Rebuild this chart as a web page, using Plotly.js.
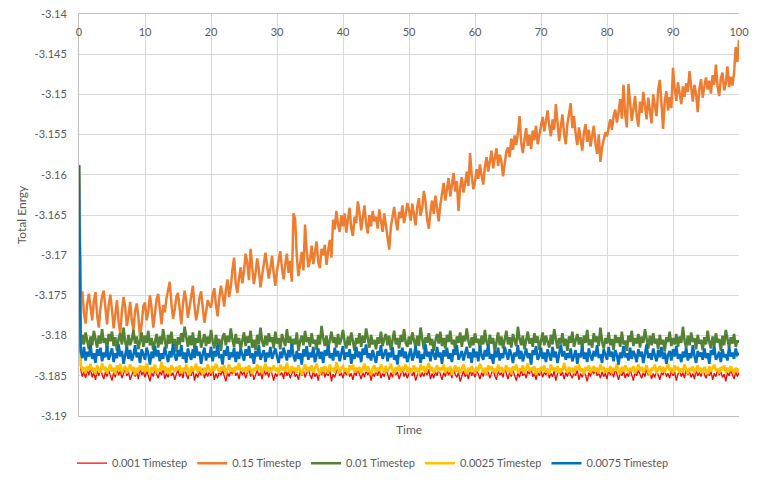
<!DOCTYPE html>
<html>
<head>
<meta charset="utf-8">
<script src="https://cdn.plot.ly/plotly-3.0.1.min.js"></script>
<style>
  html, body { margin: 0; padding: 0; background: #fff; }
  #chart { width: 762px; height: 481px; }
</style>
</head>
<body>
<div id="chart"></div>
<script>
// every run was logged at the same interval
const sampleStep = 0.25

const seriesNames = ["0.001 Timestep", "0.15 Timestep", "0.01 Timestep", "0.0025 Timestep", "0.0075 Timestep"]
const seriesColors = ["#FF0000", "#ED7D31", "#548235", "#FFC000", "#0070C0"]

const yTicks = [-3.19, -3.185, -3.18, -3.175, -3.17, -3.165, -3.16, -3.155, -3.15, -3.145, -3.14]
const xTicks = [0, 10, 20, 30, 40, 50, 60, 70, 80, 90, 100]

// one row = 5 time units
const energy015 = [
    -3.1588, -3.1750, -3.1745, -3.1772, -3.1785, -3.1760, -3.1748, -3.1769, -3.1781, -3.1757, -3.1746, -3.1775, -3.1790, -3.1766, -3.1751, -3.1744, -3.1770, -3.1786, -3.1762, -3.1749,
    -3.1768, -3.1791, -3.1774, -3.1756, -3.1783, -3.1797, -3.1770, -3.1752, -3.1765, -3.1788, -3.1776, -3.1758, -3.1781, -3.1794, -3.1769, -3.1760, -3.1777, -3.1802, -3.1785, -3.1763,
    -3.1759, -3.1781, -3.1770, -3.1750, -3.1766, -3.1790, -3.1773, -3.1755, -3.1748, -3.1769, -3.1786, -3.1762, -3.1771, -3.1754, -3.1741, -3.1733, -3.1760, -3.1779, -3.1768, -3.1752,
    -3.1747, -3.1772, -3.1786, -3.1761, -3.1744, -3.1757, -3.1778, -3.1765, -3.1750, -3.1738, -3.1763, -3.1781, -3.1769, -3.1753, -3.1745, -3.1766, -3.1784, -3.1771, -3.1756, -3.1762,
    -3.1765, -3.1750, -3.1741, -3.1762, -3.1776, -3.1754, -3.1738, -3.1749, -3.1764, -3.1743, -3.1730, -3.1752, -3.1739, -3.1718, -3.1703, -3.1736, -3.1747, -3.1728, -3.1715, -3.1735,
    -3.1720, -3.1698, -3.1710, -3.1731, -3.1692, -3.1715, -3.1736, -3.1722, -3.1704, -3.1718, -3.1740, -3.1725, -3.1709, -3.1697, -3.1713, -3.1729, -3.1716, -3.1701, -3.1723, -3.1738,
    -3.1719, -3.1704, -3.1695, -3.1716, -3.1730, -3.1711, -3.1698, -3.1722, -3.1707, -3.1733, -3.1648, -3.1655, -3.1701, -3.1726, -3.1712, -3.1696, -3.1719, -3.1662, -3.1694, -3.1715,
    -3.1706, -3.1688, -3.1711, -3.1697, -3.1683, -3.1709, -3.1716, -3.1692, -3.1700, -3.1687, -3.1712, -3.1695, -3.1681, -3.1703, -3.1656, -3.1668, -3.1645, -3.1662, -3.1671, -3.1650,
    -3.1664, -3.1648, -3.1672, -3.1655, -3.1641, -3.1667, -3.1676, -3.1652, -3.1660, -3.1633, -3.1647, -3.1669, -3.1654, -3.1638, -3.1661, -3.1673, -3.1650, -3.1664, -3.1645, -3.1658,
    -3.1652, -3.1667, -3.1643, -3.1659, -3.1671, -3.1648, -3.1662, -3.1676, -3.1693, -3.1665, -3.1651, -3.1640, -3.1657, -3.1669, -3.1646, -3.1654, -3.1638, -3.1660, -3.1649, -3.1635,
    -3.1644, -3.1657, -3.1636, -3.1648, -3.1663, -3.1640, -3.1629, -3.1651, -3.1642, -3.1620, -3.1633, -3.1655, -3.1667, -3.1646, -3.1632, -3.1649, -3.1626, -3.1641, -3.1658, -3.1637,
    -3.1625, -3.1610, -3.1632, -3.1619, -3.1604, -3.1627, -3.1614, -3.1598, -3.1621, -3.1608, -3.1645, -3.1616, -3.1603, -3.1622, -3.1611, -3.1596, -3.1614, -3.1573, -3.1600, -3.1618,
    -3.1609, -3.1593, -3.1605, -3.1587, -3.1601, -3.1612, -3.1590, -3.1578, -3.1596, -3.1584, -3.1570, -3.1592, -3.1580, -3.1567, -3.1589, -3.1575, -3.1583, -3.1602, -3.1586, -3.1571,
    -3.1566, -3.1578, -3.1555, -3.1569, -3.1551, -3.1563, -3.1548, -3.1527, -3.1560, -3.1573, -3.1556, -3.1542, -3.1564, -3.1550, -3.1568, -3.1545, -3.1557, -3.1539, -3.1562, -3.1549,
    -3.1541, -3.1528, -3.1546, -3.1533, -3.1520, -3.1539, -3.1552, -3.1531, -3.1544, -3.1512, -3.1536, -3.1558, -3.1540, -3.1525, -3.1549, -3.1562, -3.1537, -3.1523, -3.1511, -3.1542,
    -3.1527, -3.1549, -3.1563, -3.1541, -3.1556, -3.1570, -3.1548, -3.1537, -3.1559, -3.1544, -3.1565, -3.1552, -3.1539, -3.1561, -3.1574, -3.1550, -3.1584, -3.1566, -3.1558, -3.1547,
    -3.1552, -3.1540, -3.1531, -3.1544, -3.1527, -3.1519, -3.1535, -3.1522, -3.1506, -3.1530, -3.1488, -3.1525, -3.1541, -3.1487, -3.1512, -3.1533, -3.1518, -3.1502, -3.1526, -3.1540,
    -3.1509, -3.1523, -3.1497, -3.1515, -3.1531, -3.1504, -3.1519, -3.1536, -3.1500, -3.1514, -3.1527, -3.1495, -3.1482, -3.1511, -3.1543, -3.1508, -3.1496, -3.1520, -3.1503, -3.1517,
    -3.1467, -3.1492, -3.1508, -3.1485, -3.1499, -3.1512, -3.1490, -3.1503, -3.1486, -3.1497, -3.1471, -3.1494, -3.1509, -3.1488, -3.1500, -3.1522, -3.1493, -3.1481, -3.1504, -3.1490,
    -3.1479, -3.1494, -3.1483, -3.1499, -3.1476, -3.1488, -3.1463, -3.1490, -3.1502, -3.1480, -3.1473, -3.1495, -3.1486, -3.1465, -3.1491, -3.1478, -3.1489, -3.1474, -3.1441, -3.1460,
    -3.1432
]

const energy001 = [
    -3.1588, -3.1842, -3.1851, -3.1845, -3.1853, -3.1843, -3.1849, -3.1840, -3.1852, -3.1846, -3.1855, -3.1844, -3.1850, -3.1841, -3.1848, -3.1854, -3.1845, -3.1851, -3.1843, -3.1849,
    -3.1856, -3.1846, -3.1852, -3.1842, -3.1849, -3.1844, -3.1853, -3.1847, -3.1841, -3.1850, -3.1845, -3.1855, -3.1848, -3.1843, -3.1851, -3.1846, -3.1854, -3.1840, -3.1849, -3.1845,
    -3.1852, -3.1844, -3.1850, -3.1857, -3.1846, -3.1851, -3.1842, -3.1848, -3.1853, -3.1845, -3.1849, -3.1841, -3.1854, -3.1847, -3.1852, -3.1843, -3.1850, -3.1846, -3.1855, -3.1848,
    -3.1843, -3.1851, -3.1845, -3.1853, -3.1840, -3.1848, -3.1854, -3.1846, -3.1850, -3.1842, -3.1856, -3.1847, -3.1852, -3.1844, -3.1849, -3.1841, -3.1853, -3.1846, -3.1851, -3.1845,
    -3.1850, -3.1842, -3.1855, -3.1847, -3.1853, -3.1845, -3.1849, -3.1843, -3.1852, -3.1857, -3.1846, -3.1851, -3.1844, -3.1848, -3.1840, -3.1850, -3.1846, -3.1854, -3.1843, -3.1849,
    -3.1845, -3.1853, -3.1847, -3.1841, -3.1851, -3.1844, -3.1855, -3.1848, -3.1843, -3.1850, -3.1846, -3.1854, -3.1842, -3.1849, -3.1845, -3.1852, -3.1840, -3.1848, -3.1856, -3.1847,
    -3.1851, -3.1843, -3.1849, -3.1846, -3.1854, -3.1841, -3.1850, -3.1845, -3.1853, -3.1847, -3.1842, -3.1851, -3.1848, -3.1855, -3.1844, -3.1850, -3.1843, -3.1852, -3.1846, -3.1841,
    -3.1849, -3.1854, -3.1844, -3.1851, -3.1847, -3.1856, -3.1843, -3.1849, -3.1841, -3.1852, -3.1846, -3.1850, -3.1843, -3.1857, -3.1848, -3.1852, -3.1845, -3.1840, -3.1850, -3.1846,
    -3.1853, -3.1844, -3.1849, -3.1842, -3.1851, -3.1847, -3.1855, -3.1845, -3.1850, -3.1841, -3.1848, -3.1854, -3.1846, -3.1852, -3.1843, -3.1849, -3.1845, -3.1856, -3.1847, -3.1851,
    -3.1844, -3.1850, -3.1842, -3.1853, -3.1847, -3.1851, -3.1840, -3.1848, -3.1855, -3.1846, -3.1852, -3.1843, -3.1849, -3.1845, -3.1854, -3.1848, -3.1842, -3.1851, -3.1846, -3.1853,
    -3.1847, -3.1841, -3.1850, -3.1845, -3.1856, -3.1848, -3.1843, -3.1852, -3.1846, -3.1851, -3.1844, -3.1849, -3.1842, -3.1854, -3.1847, -3.1853, -3.1845, -3.1850, -3.1841, -3.1848,
    -3.1855, -3.1846, -3.1851, -3.1843, -3.1849, -3.1845, -3.1853, -3.1840, -3.1848, -3.1852, -3.1846, -3.1857, -3.1849, -3.1844, -3.1851, -3.1847, -3.1854, -3.1842, -3.1850, -3.1845,
    -3.1852, -3.1843, -3.1848, -3.1854, -3.1846, -3.1851, -3.1841, -3.1849, -3.1845, -3.1853, -3.1847, -3.1842, -3.1850, -3.1855, -3.1844, -3.1849, -3.1846, -3.1852, -3.1840, -3.1848,
    -3.1854, -3.1845, -3.1851, -3.1843, -3.1849, -3.1856, -3.1847, -3.1852, -3.1842, -3.1850, -3.1846, -3.1853, -3.1844, -3.1848, -3.1841, -3.1851, -3.1847, -3.1855, -3.1845, -3.1850,
    -3.1843, -3.1852, -3.1846, -3.1849, -3.1841, -3.1853, -3.1847, -3.1851, -3.1844, -3.1856, -3.1848, -3.1842, -3.1850, -3.1845, -3.1854, -3.1846, -3.1851, -3.1843, -3.1849, -3.1853,
    -3.1845, -3.1850, -3.1842, -3.1855, -3.1847, -3.1852, -3.1844, -3.1849, -3.1857, -3.1846, -3.1851, -3.1843, -3.1848, -3.1840, -3.1850, -3.1846, -3.1853, -3.1845, -3.1851, -3.1847,
    -3.1854, -3.1843, -3.1849, -3.1845, -3.1852, -3.1841, -3.1848, -3.1855, -3.1846, -3.1850, -3.1844, -3.1853, -3.1847, -3.1851, -3.1842, -3.1849, -3.1856, -3.1845, -3.1850, -3.1843,
    -3.1848, -3.1853, -3.1846, -3.1851, -3.1841, -3.1849, -3.1845, -3.1854, -3.1847, -3.1852, -3.1843, -3.1850, -3.1855, -3.1846, -3.1849, -3.1842, -3.1851, -3.1847, -3.1853, -3.1844,
    -3.1850, -3.1845, -3.1856, -3.1848, -3.1843, -3.1851, -3.1846, -3.1853, -3.1840, -3.1849, -3.1845, -3.1852, -3.1847, -3.1854, -3.1843, -3.1850, -3.1846, -3.1851, -3.1842, -3.1848,
    -3.1853, -3.1846, -3.1850, -3.1844, -3.1855, -3.1847, -3.1851, -3.1842, -3.1849, -3.1845, -3.1852, -3.1848, -3.1857, -3.1846, -3.1850, -3.1843, -3.1849, -3.1854, -3.1845, -3.1851,
    -3.1846
]

const energy0010 = [
    -3.1588, -3.1814, -3.1799, -3.1811, -3.1796, -3.1808, -3.1817, -3.1801, -3.1812, -3.1794, -3.1806, -3.1815, -3.1800, -3.1810, -3.1792, -3.1809, -3.1803, -3.1818, -3.1798, -3.1807,
    -3.1795, -3.1813, -3.1802, -3.1819, -3.1804, -3.1797, -3.1811, -3.1790, -3.1808, -3.1816, -3.1799, -3.1812, -3.1805, -3.1793, -3.1810, -3.1801, -3.1817, -3.1806, -3.1796, -3.1814,
    -3.1800, -3.1809, -3.1794, -3.1812, -3.1803, -3.1818, -3.1807, -3.1798, -3.1815, -3.1801, -3.1811, -3.1792, -3.1806, -3.1816, -3.1799, -3.1810, -3.1795, -3.1813, -3.1804, -3.1820,
    -3.1802, -3.1811, -3.1797, -3.1808, -3.1789, -3.1805, -3.1814, -3.1800, -3.1812, -3.1796, -3.1817, -3.1803, -3.1809, -3.1794, -3.1815, -3.1807, -3.1798, -3.1813, -3.1801, -3.1810,
    -3.1793, -3.1806, -3.1816, -3.1799, -3.1811, -3.1804, -3.1819, -3.1802, -3.1797, -3.1812, -3.1800, -3.1808, -3.1791, -3.1805, -3.1814, -3.1798, -3.1810, -3.1803, -3.1817, -3.1806,
    -3.1796, -3.1813, -3.1801, -3.1809, -3.1794, -3.1815, -3.1805, -3.1818, -3.1799, -3.1811, -3.1790, -3.1807, -3.1814, -3.1800, -3.1812, -3.1797, -3.1808, -3.1802, -3.1816, -3.1795,
    -3.1810, -3.1803, -3.1817, -3.1798, -3.1806, -3.1813, -3.1792, -3.1809, -3.1801, -3.1815, -3.1804, -3.1811, -3.1796, -3.1819, -3.1807, -3.1800, -3.1812, -3.1794, -3.1808, -3.1802,
    -3.1814, -3.1797, -3.1810, -3.1805, -3.1818, -3.1799, -3.1811, -3.1788, -3.1803, -3.1813, -3.1800, -3.1816, -3.1806, -3.1795, -3.1809, -3.1802, -3.1815, -3.1798, -3.1811, -3.1804,
    -3.1793, -3.1808, -3.1816, -3.1801, -3.1812, -3.1796, -3.1807, -3.1819, -3.1803, -3.1810, -3.1797, -3.1814, -3.1800, -3.1809, -3.1791, -3.1806, -3.1815, -3.1799, -3.1811, -3.1805,
    -3.1817, -3.1802, -3.1810, -3.1795, -3.1813, -3.1804, -3.1798, -3.1812, -3.1800, -3.1818, -3.1806, -3.1794, -3.1811, -3.1803, -3.1816, -3.1799, -3.1808, -3.1792, -3.1809, -3.1814,
    -3.1801, -3.1811, -3.1796, -3.1807, -3.1815, -3.1800, -3.1813, -3.1790, -3.1805, -3.1817, -3.1802, -3.1809, -3.1797, -3.1812, -3.1804, -3.1819, -3.1806, -3.1798, -3.1810, -3.1795,
    -3.1813, -3.1803, -3.1816, -3.1799, -3.1808, -3.1794, -3.1811, -3.1805, -3.1818, -3.1801, -3.1809, -3.1796, -3.1814, -3.1800, -3.1807, -3.1791, -3.1806, -3.1815, -3.1802, -3.1812,
    -3.1797, -3.1809, -3.1804, -3.1817, -3.1800, -3.1811, -3.1793, -3.1808, -3.1814, -3.1799, -3.1810, -3.1803, -3.1820, -3.1805, -3.1796, -3.1812, -3.1801, -3.1816, -3.1807, -3.1794,
    -3.1811, -3.1802, -3.1815, -3.1798, -3.1806, -3.1813, -3.1789, -3.1804, -3.1812, -3.1800, -3.1817, -3.1808, -3.1795, -3.1810, -3.1803, -3.1814, -3.1797, -3.1809, -3.1801, -3.1818,
    -3.1805, -3.1796, -3.1812, -3.1800, -3.1808, -3.1815, -3.1799, -3.1811, -3.1792, -3.1806, -3.1816, -3.1803, -3.1810, -3.1797, -3.1813, -3.1804, -3.1819, -3.1801, -3.1809, -3.1795,
    -3.1814, -3.1806, -3.1798, -3.1811, -3.1802, -3.1817, -3.1800, -3.1809, -3.1793, -3.1812, -3.1805, -3.1815, -3.1797, -3.1808, -3.1801, -3.1813, -3.1790, -3.1807, -3.1816, -3.1803,
    -3.1810, -3.1796, -3.1812, -3.1804, -3.1818, -3.1799, -3.1809, -3.1802, -3.1814, -3.1795, -3.1811, -3.1806, -3.1819, -3.1800, -3.1808, -3.1794, -3.1813, -3.1803, -3.1810, -3.1798,
    -3.1815, -3.1801, -3.1809, -3.1792, -3.1806, -3.1816, -3.1800, -3.1812, -3.1797, -3.1810, -3.1804, -3.1817, -3.1799, -3.1811, -3.1805, -3.1820, -3.1802, -3.1808, -3.1795, -3.1813,
    -3.1803, -3.1811, -3.1798, -3.1814, -3.1801, -3.1809, -3.1789, -3.1806, -3.1815, -3.1800, -3.1812, -3.1796, -3.1808, -3.1803, -3.1817, -3.1799, -3.1810, -3.1805, -3.1818, -3.1802,
    -3.1811, -3.1794, -3.1808, -3.1816, -3.1801, -3.1813, -3.1797, -3.1809, -3.1804, -3.1819, -3.1800, -3.1812, -3.1793, -3.1807, -3.1815, -3.1802, -3.1810, -3.1798, -3.1814, -3.1806,
    -3.1809
]

const energy0025 = [
    -3.1588, -3.1836, -3.1844, -3.1839, -3.1847, -3.1838, -3.1843, -3.1835, -3.1845, -3.1840, -3.1848, -3.1837, -3.1842, -3.1846, -3.1834, -3.1843, -3.1839, -3.1847, -3.1841, -3.1836,
    -3.1845, -3.1840, -3.1848, -3.1837, -3.1843, -3.1835, -3.1846, -3.1841, -3.1838, -3.1847, -3.1842, -3.1836, -3.1844, -3.1839, -3.1849, -3.1840, -3.1845, -3.1837, -3.1843, -3.1838,
    -3.1846, -3.1835, -3.1842, -3.1848, -3.1839, -3.1844, -3.1836, -3.1847, -3.1841, -3.1845, -3.1833, -3.1843, -3.1838, -3.1846, -3.1840, -3.1848, -3.1837, -3.1842, -3.1845, -3.1839,
    -3.1843, -3.1837, -3.1847, -3.1840, -3.1845, -3.1836, -3.1842, -3.1849, -3.1838, -3.1844, -3.1841, -3.1835, -3.1846, -3.1839, -3.1843, -3.1848, -3.1840, -3.1845, -3.1836, -3.1842,
    -3.1847, -3.1838, -3.1844, -3.1835, -3.1841, -3.1846, -3.1839, -3.1843, -3.1837, -3.1848, -3.1842, -3.1836, -3.1845, -3.1840, -3.1847, -3.1838, -3.1843, -3.1834, -3.1844, -3.1840,
    -3.1845, -3.1839, -3.1846, -3.1837, -3.1842, -3.1848, -3.1840, -3.1844, -3.1836, -3.1843, -3.1838, -3.1847, -3.1841, -3.1835, -3.1845, -3.1839, -3.1846, -3.1842, -3.1837, -3.1844,
    -3.1840, -3.1848, -3.1836, -3.1843, -3.1839, -3.1845, -3.1834, -3.1842, -3.1847, -3.1838, -3.1844, -3.1840, -3.1846, -3.1837, -3.1843, -3.1849, -3.1841, -3.1836, -3.1845, -3.1839,
    -3.1844, -3.1837, -3.1846, -3.1841, -3.1835, -3.1843, -3.1848, -3.1839, -3.1845, -3.1838, -3.1842, -3.1847, -3.1836, -3.1844, -3.1840, -3.1846, -3.1833, -3.1842, -3.1847, -3.1840,
    -3.1838, -3.1845, -3.1841, -3.1848, -3.1837, -3.1843, -3.1836, -3.1846, -3.1840, -3.1844, -3.1839, -3.1847, -3.1842, -3.1835, -3.1845, -3.1838, -3.1843, -3.1849, -3.1841, -3.1837,
    -3.1846, -3.1840, -3.1844, -3.1836, -3.1842, -3.1847, -3.1838, -3.1845, -3.1841, -3.1835, -3.1843, -3.1848, -3.1839, -3.1844, -3.1837, -3.1846, -3.1840, -3.1842, -3.1836, -3.1845,
    -3.1839, -3.1847, -3.1842, -3.1837, -3.1845, -3.1840, -3.1848, -3.1836, -3.1843, -3.1838, -3.1846, -3.1841, -3.1834, -3.1844, -3.1839, -3.1847, -3.1842, -3.1837, -3.1845, -3.1840,
    -3.1843, -3.1836, -3.1846, -3.1840, -3.1844, -3.1838, -3.1849, -3.1842, -3.1837, -3.1845, -3.1839, -3.1847, -3.1841, -3.1836, -3.1843, -3.1848, -3.1840, -3.1845, -3.1838, -3.1842,
    -3.1847, -3.1839, -3.1844, -3.1835, -3.1842, -3.1846, -3.1840, -3.1848, -3.1837, -3.1843, -3.1838, -3.1845, -3.1841, -3.1847, -3.1836, -3.1844, -3.1839, -3.1846, -3.1842, -3.1837,
    -3.1845, -3.1840, -3.1848, -3.1838, -3.1843, -3.1836, -3.1846, -3.1841, -3.1844, -3.1837, -3.1847, -3.1842, -3.1835, -3.1845, -3.1840, -3.1843, -3.1838, -3.1849, -3.1841, -3.1846,
    -3.1839, -3.1844, -3.1837, -3.1846, -3.1842, -3.1848, -3.1836, -3.1843, -3.1840, -3.1845, -3.1838, -3.1847, -3.1841, -3.1844, -3.1834, -3.1842, -3.1846, -3.1839, -3.1845, -3.1840,
    -3.1847, -3.1838, -3.1843, -3.1836, -3.1845, -3.1841, -3.1848, -3.1839, -3.1844, -3.1837, -3.1846, -3.1842, -3.1838, -3.1845, -3.1840, -3.1847, -3.1836, -3.1843, -3.1839, -3.1846,
    -3.1841, -3.1845, -3.1838, -3.1847, -3.1840, -3.1844, -3.1835, -3.1843, -3.1848, -3.1839, -3.1845, -3.1837, -3.1842, -3.1846, -3.1840, -3.1844, -3.1838, -3.1847, -3.1842, -3.1836,
    -3.1844, -3.1839, -3.1846, -3.1841, -3.1837, -3.1845, -3.1849, -3.1840, -3.1843, -3.1836, -3.1847, -3.1842, -3.1838, -3.1845, -3.1839, -3.1846, -3.1841, -3.1835, -3.1844, -3.1840,
    -3.1847, -3.1837, -3.1843, -3.1839, -3.1846, -3.1841, -3.1845, -3.1836, -3.1842, -3.1848, -3.1840, -3.1844, -3.1838, -3.1846, -3.1842, -3.1837, -3.1845, -3.1840, -3.1847, -3.1839,
    -3.1843, -3.1848, -3.1838, -3.1845, -3.1840, -3.1836, -3.1844, -3.1841, -3.1847, -3.1839, -3.1843, -3.1837, -3.1846, -3.1840, -3.1845, -3.1838, -3.1843, -3.1847, -3.1840, -3.1844,
    -3.1841
]

const energy0075 = [
    -3.1588, -3.1819, -3.1828, -3.1814, -3.1831, -3.1820, -3.1826, -3.1812, -3.1829, -3.1822, -3.1834, -3.1817, -3.1825, -3.1815, -3.1832, -3.1821, -3.1827, -3.1813, -3.1830, -3.1824,
    -3.1816, -3.1833, -3.1822, -3.1828, -3.1811, -3.1826, -3.1819, -3.1835, -3.1823, -3.1814, -3.1829, -3.1818, -3.1831, -3.1824, -3.1812, -3.1827, -3.1821, -3.1834, -3.1817, -3.1825,
    -3.1830, -3.1815, -3.1823, -3.1836, -3.1820, -3.1828, -3.1813, -3.1826, -3.1818, -3.1832, -3.1822, -3.1829, -3.1814, -3.1824, -3.1833, -3.1819, -3.1827, -3.1811, -3.1825, -3.1831,
    -3.1818, -3.1826, -3.1812, -3.1829, -3.1821, -3.1834, -3.1816, -3.1824, -3.1830, -3.1817, -3.1828, -3.1813, -3.1825, -3.1820, -3.1835, -3.1823, -3.1815, -3.1831, -3.1822, -3.1827,
    -3.1814, -3.1832, -3.1819, -3.1826, -3.1811, -3.1828, -3.1823, -3.1836, -3.1818, -3.1825, -3.1813, -3.1830, -3.1821, -3.1827, -3.1815, -3.1833, -3.1820, -3.1829, -3.1816, -3.1824,
    -3.1831, -3.1817, -3.1825, -3.1813, -3.1828, -3.1822, -3.1835, -3.1819, -3.1826, -3.1812, -3.1830, -3.1824, -3.1818, -3.1833, -3.1821, -3.1827, -3.1814, -3.1829, -3.1823, -3.1816,
    -3.1826, -3.1834, -3.1820, -3.1828, -3.1815, -3.1824, -3.1831, -3.1818, -3.1827, -3.1811, -3.1825, -3.1832, -3.1819, -3.1829, -3.1822, -3.1836, -3.1817, -3.1826, -3.1813, -3.1830,
    -3.1821, -3.1827, -3.1814, -3.1833, -3.1823, -3.1816, -3.1829, -3.1820, -3.1834, -3.1818, -3.1825, -3.1812, -3.1828, -3.1822, -3.1831, -3.1815, -3.1826, -3.1819, -3.1832, -3.1824,
    -3.1813, -3.1830, -3.1821, -3.1826, -3.1817, -3.1835, -3.1823, -3.1829, -3.1814, -3.1827, -3.1820, -3.1833, -3.1816, -3.1824, -3.1811, -3.1828, -3.1822, -3.1831, -3.1818, -3.1826,
    -3.1834, -3.1819, -3.1825, -3.1812, -3.1829, -3.1823, -3.1817, -3.1832, -3.1821, -3.1827, -3.1814, -3.1830, -3.1824, -3.1836, -3.1818, -3.1826, -3.1815, -3.1828, -3.1820, -3.1833,
    -3.1822, -3.1816, -3.1831, -3.1825, -3.1813, -3.1828, -3.1819, -3.1834, -3.1823, -3.1829, -3.1811, -3.1826, -3.1820, -3.1832, -3.1817, -3.1824, -3.1830, -3.1814, -3.1827, -3.1821,
    -3.1835, -3.1818, -3.1826, -3.1815, -3.1829, -3.1822, -3.1833, -3.1817, -3.1824, -3.1812, -3.1830, -3.1825, -3.1819, -3.1831, -3.1823, -3.1814, -3.1828, -3.1821, -3.1834, -3.1816,
    -3.1827, -3.1820, -3.1832, -3.1813, -3.1825, -3.1830, -3.1818, -3.1826, -3.1811, -3.1829, -3.1823, -3.1835, -3.1819, -3.1827, -3.1815, -3.1831, -3.1822, -3.1828, -3.1814, -3.1824,
    -3.1830, -3.1817, -3.1823, -3.1834, -3.1821, -3.1826, -3.1812, -3.1829, -3.1819, -3.1832, -3.1825, -3.1816, -3.1828, -3.1822, -3.1836, -3.1818, -3.1824, -3.1813, -3.1830, -3.1826,
    -3.1815, -3.1829, -3.1821, -3.1833, -3.1817, -3.1825, -3.1831, -3.1814, -3.1827, -3.1820, -3.1834, -3.1823, -3.1811, -3.1826, -3.1819, -3.1830, -3.1822, -3.1828, -3.1816, -3.1832,
    -3.1824, -3.1818, -3.1835, -3.1822, -3.1827, -3.1813, -3.1829, -3.1821, -3.1833, -3.1816, -3.1825, -3.1831, -3.1819, -3.1826, -3.1812, -3.1828, -3.1823, -3.1834, -3.1817, -3.1825,
    -3.1830, -3.1814, -3.1826, -3.1820, -3.1832, -3.1818, -3.1824, -3.1836, -3.1821, -3.1828, -3.1813, -3.1827, -3.1822, -3.1831, -3.1815, -3.1829, -3.1819, -3.1825, -3.1833, -3.1817,
    -3.1826, -3.1820, -3.1834, -3.1823, -3.1811, -3.1828, -3.1822, -3.1830, -3.1816, -3.1825, -3.1832, -3.1818, -3.1827, -3.1814, -3.1829, -3.1821, -3.1835, -3.1824, -3.1819, -3.1831,
    -3.1817, -3.1826, -3.1813, -3.1829, -3.1823, -3.1833, -3.1820, -3.1827, -3.1815, -3.1831, -3.1822, -3.1828, -3.1812, -3.1825, -3.1834, -3.1819, -3.1826, -3.1821, -3.1830, -3.1816,
    -3.1828, -3.1822, -3.1835, -3.1818, -3.1824, -3.1813, -3.1830, -3.1826, -3.1820, -3.1833, -3.1817, -3.1827, -3.1823, -3.1831, -3.1814, -3.1826, -3.1821, -3.1829, -3.1816, -3.1824,
    -3.1822
]

function sampleTimes(values, step) {
    return values.map((v, i) => i * step)
}

const textColor = "#595959"
const fontFamily = "Lato, 'Liberation Sans', sans-serif"

const seriesValues = [energy001, energy015, energy0010, energy0025, energy0075]
const lineWidths = [1.3, 2.5, 2.6, 2.6, 2.6]

const traces = seriesValues.map((values, i) => ({
    x: sampleTimes(values, sampleStep),
    y: values,
    type: "scatter",
    mode: "lines",
    name: seriesNames[i],
    line: {color: seriesColors[i], width: lineWidths[i]},
    hoverinfo: "skip"
}))

const layout = {
    width: 762,
    height: 481,
    margin: {l: 79, r: 23, t: 14, b: 65},
    paper_bgcolor: "#ffffff",
    plot_bgcolor: "#ffffff",
    font: {family: fontFamily, size: 11, color: textColor},
    showlegend: true,
    xaxis: {
        range: [0, 100],
        tickvals: xTicks,
        ticktext: xTicks.map(String),
        side: "top",
        ticklabelposition: "inside",
        ticklabeloverflow: "allow",
        ticklabelstandoff: 14,
        ticks: "",
        showgrid: true,
        gridcolor: "#d9d9d9",
        gridwidth: 1,
        showline: true,
        linecolor: "#bfbfbf",
        linewidth: 1,
        mirror: true,
        zeroline: false,
        tickfont: {size: 11, color: textColor}
    },
    yaxis: {
        range: [-3.19, -3.14],
        tickvals: yTicks,
        ticktext: yTicks.map(String),
        ticks: "",
        ticklabelstandoff: 9,
        showgrid: true,
        gridcolor: "#d9d9d9",
        gridwidth: 1,
        showline: true,
        linecolor: "#bfbfbf",
        linewidth: 1,
        zeroline: false,
        tickfont: {size: 11, color: textColor},
        title: {text: "Total Enrgy", font: {size: 12, color: textColor}, standoff: 5}
    },
    legend: {
        orientation: "h",
        xref: "container",
        yref: "container",
        x: 0.0945,
        xanchor: "left",
        y: 0.037,
        yanchor: "middle",
        font: {size: 11, color: textColor},
        bgcolor: "rgba(0,0,0,0)",
        traceorder: "normal",
        itemwidth: 30
    },
    annotations: [{
        text: "Time",
        xref: "paper",
        yref: "paper",
        x: 0.5,
        y: 0,
        yanchor: "top",
        yshift: -4,
        showarrow: false,
        font: {size: 12, color: textColor}
    }]
}

Plotly.newPlot("chart", traces, layout, {staticPlot: true, displayModeBar: false})
</script>
</body>
</html>
